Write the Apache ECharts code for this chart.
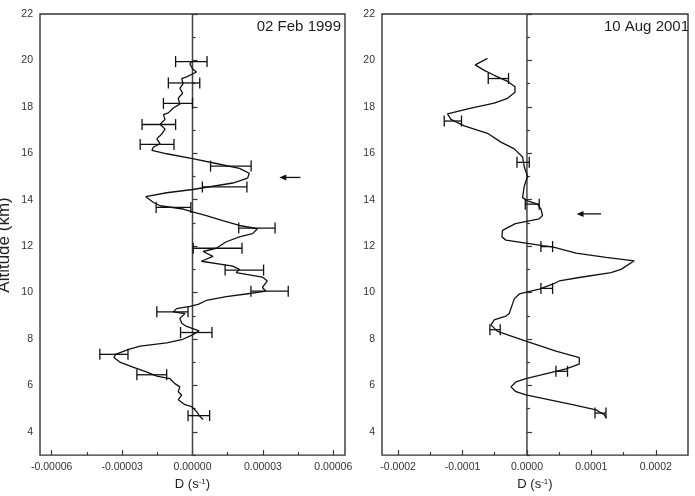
<!DOCTYPE html>
<html>
<head>
<meta charset="utf-8">
<script src="https://cdn.jsdelivr.net/npm/echarts@6/dist/echarts.min.js"></script>
<style>html,body{margin:0;padding:0;background:#fff;}#c{width:695px;height:496px;}</style>
</head>
<body>
<div id="c"></div>
<script>
// ---- Data: 02 Feb 1999 (left panel) ----
var febAlt = [19.95,19.85,19.64,19.50,19.29,19.22,19.00,18.80,18.59,18.37,18.12,17.95,17.74,17.67,17.46,17.25,17.04,16.83,16.62,16.41,16.27,16.13,15.98,15.77,15.56,15.35,15.14,14.93,14.72,14.58,14.44,14.30,14.13,13.88,13.74,13.60,13.48,13.32,13.10,12.89,12.75,12.54,12.40,12.19,11.91,11.77,11.56,11.35,11.14,11.00,10.86,10.67,10.50,10.22,10.06,9.94,9.83,9.66,9.49,9.41,9.31,9.17,9.10,8.89,8.68,8.54,8.35,8.18,7.97,7.83,7.69,7.55,7.34,7.20,6.99,6.78,6.57,6.40,6.29,6.08,5.94,5.73,5.59,5.38,5.17,5.09,4.88,4.67,4.53];
var febD = [-0.0000004,-0.0000011,0.0,0.0000017,-0.0000025,-0.0000046,-0.0000040,-0.0000054,-0.0000042,-0.0000061,-0.0000054,-0.0000082,-0.0000103,-0.0000124,-0.0000117,-0.0000138,-0.0000117,-0.0000131,-0.0000152,-0.0000138,-0.0000166,-0.0000173,-0.0000110,0.0,0.0000101,0.0000200,0.0000242,0.0000235,0.0000172,0.0000087,0.0,-0.0000110,-0.0000199,-0.0000166,-0.0000138,-0.0000040,0.0,0.0000059,0.0000129,0.0000200,0.0000277,0.0000256,0.0000200,0.0000144,0.0000101,0.0000045,0.0000087,0.0000038,0.0000172,0.0000200,0.0000186,0.0000298,0.0000319,0.0000298,0.0000313,0.0000228,0.0000144,0.0000059,0.0000024,-0.0000011,-0.0000068,-0.0000082,-0.0000032,-0.0000054,-0.0000046,-0.0000025,0.0000028,0.0,-0.0000046,-0.0000110,-0.0000223,-0.0000272,-0.0000328,-0.0000335,-0.0000307,-0.0000251,-0.0000194,-0.0000152,-0.0000096,-0.0000075,-0.0000054,-0.0000061,-0.0000046,-0.0000061,-0.0000032,-0.0000004,0.0000017,0.0000031,0.0000045];
var febErrAlt = [19.95,19.03,18.15,17.24,16.38,15.45,14.55,13.67,12.78,11.91,10.97,10.06,9.17,8.28,7.34,6.46,4.70];
var febErrLo = [-0.0000072,-0.0000103,-0.0000124,-0.0000215,-0.0000223,0.0000077,0.0000042,-0.0000155,0.0000197,0.0000003,0.0000139,0.0000249,-0.0000152,-0.0000051,-0.0000395,-0.0000237,-0.0000019];
var febErrHi = [0.0000062,0.0000031,0.0000000,-0.0000072,-0.0000079,0.0000250,0.0000232,-0.0000007,0.0000352,0.0000211,0.0000303,0.0000408,-0.0000019,0.0000083,-0.0000275,-0.0000110,0.0000073];
var febArrow = [0.000037, 0.000046, 14.96]; // head D, tail D, altitude

// ---- Data: 10 Aug 2001 (right panel) ----
var augAlt = [20.09,19.81,19.57,19.36,19.10,18.87,18.63,18.37,18.16,17.95,17.70,17.46,17.18,16.86,16.48,16.19,15.84,15.42,15.00,14.58,14.09,13.95,13.81,13.60,13.32,13.18,12.97,12.68,12.40,12.26,12.12,12.02,11.97,11.70,11.52,11.37,11.00,10.86,10.65,10.50,10.36,10.15,9.94,9.73,9.10,8.99,8.82,8.61,8.33,7.91,7.48,7.20,6.92,6.71,6.43,6.29,6.15,5.94,5.73,5.59,5.44,5.17,4.95,4.74,4.60];
var augD = [-0.0000612,-0.0000803,-0.0000663,-0.0000508,-0.0000301,-0.0000186,-0.0000186,-0.0000301,-0.0000508,-0.0000870,-0.0001233,-0.0001180,-0.0000974,-0.0000612,-0.0000404,-0.0000197,-0.0000068,-0.0000042,0.0000009,-0.0000042,-0.0000068,0.0000009,0.0000165,0.0000217,0.0000242,0.0000191,-0.0000180,-0.0000379,-0.0000389,-0.0000326,0.0000009,0.0000242,0.0000398,0.0000761,0.0001227,0.0001666,0.0001460,0.0001305,0.0000812,0.0000502,0.0000398,0.0000191,-0.0000120,-0.0000197,-0.0000275,-0.0000326,-0.0000508,-0.0000559,-0.0000457,-0.0000016,0.0000450,0.0000812,0.0000812,0.0000606,0.0000191,-0.0000016,-0.0000171,-0.0000248,-0.0000171,-0.0000016,0.0000242,0.0000708,0.0001072,0.0001200,0.0001230];
var augErrAlt = [19.22,17.39,15.61,13.81,11.98,10.18,8.40,6.61,4.81];
var augErrLo = [-0.0000601,-0.0001284,-0.0000155,-0.0000026,0.0000217,0.0000217,-0.0000575,0.0000450,0.0001056];
var augErrHi = [-0.0000286,-0.0001016,0.0000036,0.0000191,0.0000398,0.0000398,-0.0000415,0.0000630,0.0001227];
var augArrow = [0.000077, 0.000115, 13.39];

// ---- Axis ticks ----
var altMajor = [4,6,8,10,12,14,16,18,20,22];
var altMinor = [3,5,7,9,11,13,15,17,19,21];
var febMajor = [-0.00006,-0.00003,0,0.00003,0.00006];
var febMinor = [-0.000045,-0.000015,0.000015,0.000045];
var augMajor = [-0.0002,-0.0001,0,0.0001,0.0002];
var augMinor = [-0.00015,-0.00005,0.00005,0.00015];
var labels = ['02 Feb 1999', '10 Aug 2001'];

var chart = echarts.init(document.getElementById('c'), null, {renderer:'canvas'});
var FRAME = '#333';
var INK = '#111';
var FONT = 'Liberation Sans, Arial, sans-serif';
var LABEL_FONT = {fontFamily:FONT, fontSize:10.5, color:'#333'};

function pairs(xs, ys){ return ys.map(function(y,i){ return [xs[i], y]; }); }
function errData(lo, hi, alt){ return alt.map(function(a,i){ return [lo[i], hi[i], a]; }); }

function xAxes(grid, min, max, major, minor, dec){
  return [{
    type:'value', gridIndex:grid, position:'bottom', min:min, max:max,
    axisLine:{show:false}, splitLine:{show:false},
    axisTick:{show:true, inside:true, length:5, customValues:major, lineStyle:{color:FRAME, width:1.2}},
    axisLabel:Object.assign({show:true, margin:7, customValues:major, formatter:function(v){ return v.toFixed(dec); }}, LABEL_FONT),
    name:'{a|D (s}{b|-1}{a|)}', nameLocation:'middle', nameGap:17,
    nameTextStyle:{rich:{a:{fontFamily:FONT, fontSize:13, color:'#222'}, b:{fontFamily:FONT, fontSize:8, color:'#222', verticalAlign:'top'}}}
  },{
    type:'value', gridIndex:grid, position:'bottom', min:min, max:max,
    axisLine:{show:false}, splitLine:{show:false}, axisLabel:{show:false},
    axisTick:{show:true, inside:true, length:3, customValues:minor, lineStyle:{color:FRAME, width:1.2}}
  }];
}
function yAxes(grid){
  return [{
    type:'value', gridIndex:grid, position:'left', min:3, max:22,
    axisLine:{show:false}, splitLine:{show:false},
    axisTick:{show:true, inside:true, length:5, customValues:altMajor, lineStyle:{color:FRAME, width:1.2}},
    axisLabel:Object.assign({show:true, margin:7, customValues:altMajor}, LABEL_FONT)
  },{
    type:'value', gridIndex:grid, position:'left', min:3, max:22,
    axisLine:{show:false}, splitLine:{show:false}, axisLabel:{show:false},
    axisTick:{show:true, inside:true, length:3, customValues:altMinor, lineStyle:{color:FRAME, width:1.2}}
  }];
}

function errRender(params, api){
  var p1 = api.coord([api.value(0), api.value(2)]);
  var p2 = api.coord([api.value(1), api.value(2)]);
  var h = 5.5;
  var st = {stroke:INK, lineWidth:1.3};
  return {type:'group', children:[
    {type:'line', shape:{x1:p1[0], y1:p1[1], x2:p2[0], y2:p2[1]}, style:st},
    {type:'line', shape:{x1:p1[0], y1:p1[1]-h, x2:p1[0], y2:p1[1]+h}, style:st},
    {type:'line', shape:{x1:p2[0], y1:p2[1]-h, x2:p2[0], y2:p2[1]+h}, style:st}
  ]};
}
function arrowRender(params, api){
  var head = api.coord([api.value(0), api.value(2)]);
  var tail = api.coord([api.value(1), api.value(2)]);
  return {type:'group', children:[
    {type:'line', shape:{x1:head[0]+5, y1:head[1], x2:tail[0], y2:tail[1]}, style:{stroke:INK, lineWidth:1.3}},
    {type:'polygon', shape:{points:[[head[0], head[1]], [head[0]+7, head[1]-3], [head[0]+7, head[1]+3]]}, style:{fill:INK}}
  ]};
}

function panelSeries(xi, yi, d, alt, lo, hi, ea, arrow){
  return [
    {type:'line', xAxisIndex:xi, yAxisIndex:yi, data:[[0,3],[0,22]], symbol:'none', silent:true,
     lineStyle:{color:'#444', width:1.5}, z:1},
    {type:'line', xAxisIndex:xi, yAxisIndex:yi, data:pairs(d, alt), symbol:'none', smooth:false,
     lineStyle:{color:INK, width:1.3}, z:3},
    {type:'custom', xAxisIndex:xi, yAxisIndex:yi, data:errData(lo, hi, ea), renderItem:errRender,
     encode:{x:[0,1], y:2}, z:4},
    {type:'custom', xAxisIndex:xi, yAxisIndex:yi, data:[arrow], renderItem:arrowRender,
     encode:{x:[0,1], y:2}, z:4}
  ];
}

var option = {
  animation:false,
  backgroundColor:'#fff',
  grid:[
    {left:40, top:14, width:305, height:451, show:true, borderColor:FRAME, borderWidth:1.4, backgroundColor:'transparent'},
    {left:382, top:14, width:306, height:451, show:true, borderColor:FRAME, borderWidth:1.4, backgroundColor:'transparent'}
  ],
  xAxis: [].concat(
    xAxes(0, -0.000065, 0.000065, febMajor, febMinor, 5),
    xAxes(1, -0.000225, 0.00025, augMajor, augMinor, 4)
  ),
  yAxis: [].concat(yAxes(0), yAxes(1)),
  series: [].concat(
    panelSeries(0, 0, febD, febAlt, febErrLo, febErrHi, febErrAlt, febArrow),
    panelSeries(2, 2, augD, augAlt, augErrLo, augErrHi, augErrAlt, augArrow)
  ),
  graphic:[
    {type:'text', x:341, y:27, style:{text:labels[0], fontFamily:FONT, fontSize:15, fill:'#222', align:'right', verticalAlign:'middle'}},
    {type:'text', x:689, y:27, style:{text:labels[1], fontFamily:FONT, fontSize:15, fill:'#222', align:'right', verticalAlign:'middle'}},
    {type:'text', x:4, y:245, rotation:Math.PI/2, style:{text:'Altitude (km)', fontFamily:FONT, fontSize:17, fill:'#222', align:'center', verticalAlign:'middle'}}
  ]
};
chart.setOption(option);
</script>
</body>
</html>
